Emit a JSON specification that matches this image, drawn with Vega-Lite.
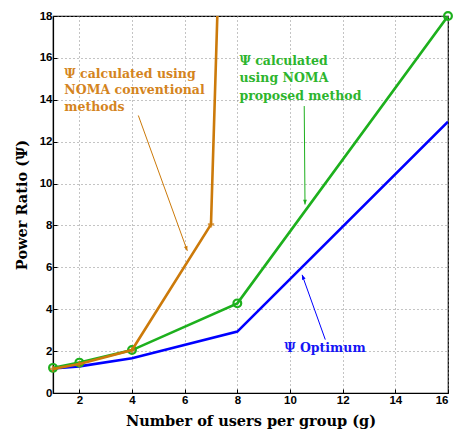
{
  "$schema": "https://vega.github.io/schema/vega-lite/v6.json",
  "width": 395,
  "height": 377,
  "autosize": {"type": "none"},
  "padding": {"left": 53, "top": 16, "right": 6, "bottom": 41},
  "background": "white",
  "config": {
    "view": {"stroke": "black", "strokeWidth": 1.2},
    "axis": {
      "grid": true,
      "gridColor": "#888888",
      "gridDash": [1, 3],
      "gridWidth": 1,
      "domainColor": "black",
      "domainWidth": 1.2,
      "tickColor": "black",
      "tickSize": -4,
      "labelPadding": 5,
      "labelFont": "Liberation Sans",
      "labelFontWeight": "bold",
      "labelFontSize": 11.5,
      "labelColor": "black",
      "titleFont": "DejaVu Serif",
      "titleFontWeight": "bold",
      "titleFontSize": 14.5,
      "titleColor": "black"
    }
  },
  "datasets": {
    "lines": [
      {"series": "opt", "x": 1, "y": 1.17},
      {"series": "opt", "x": 2, "y": 1.27},
      {"series": "opt", "x": 4, "y": 1.66},
      {"series": "opt", "x": 8, "y": 2.93},
      {"series": "opt", "x": 16, "y": 12.95},
      {"series": "prop", "x": 1, "y": 1.2},
      {"series": "prop", "x": 2, "y": 1.45},
      {"series": "prop", "x": 4, "y": 2.05},
      {"series": "prop", "x": 8, "y": 4.28},
      {"series": "prop", "x": 16, "y": 18},
      {"series": "conv", "x": 1, "y": 1.15},
      {"series": "conv", "x": 2, "y": 1.38},
      {"series": "conv", "x": 4, "y": 2.05},
      {"series": "conv", "x": 7, "y": 8.05},
      {"series": "conv", "x": 7.24, "y": 18}
    ],
    "labels": [
      {"series": "conv", "x": 1.43, "y": 15.25, "text": "Ψ calculated using"},
      {"series": "conv", "x": 1.43, "y": 14.45, "text": "NOMA conventional"},
      {"series": "conv", "x": 1.43, "y": 13.65, "text": "methods"},
      {"series": "prop", "x": 8.08, "y": 15.85, "text": "Ψ calculated"},
      {"series": "prop", "x": 8.08, "y": 15.03, "text": "using NOMA"},
      {"series": "prop", "x": 8.08, "y": 14.18, "text": "proposed method"},
      {"series": "opt", "x": 9.78, "y": 2.17, "text": "Ψ Optimum"}
    ],
    "arrows": [
      {"series": "conv", "x": 4.24, "y": 13.25, "x2": 6.1, "y2": 6.79},
      {"series": "prop", "x": 10.54, "y": 13.7, "x2": 10.57, "y2": 9.0},
      {"series": "opt", "x": 11.34, "y": 2.55, "x2": 10.46, "y2": 5.64}
    ]
  },
  "layer": [
    {
      "data": {"name": "lines"},
      "transform": [{"filter": "datum.series == 'opt'"}],
      "mark": {"type": "line", "color": "#0000FF", "strokeWidth": 2.6, "clip": true},
      "encoding": {
        "x": {"field": "x", "type": "quantitative", "scale": {"domain": [1, 16], "nice": false, "zero": false},
              "axis": {"values": [2, 4, 6, 8, 10, 12, 14, 16], "title": "Number of users per group (g)", "titlePadding": 9}},
        "y": {"field": "y", "type": "quantitative", "scale": {"domain": [0, 18], "nice": false},
              "axis": {"values": [0, 2, 4, 6, 8, 10, 12, 14, 16, 18], "title": "Power Ratio (Ψ)", "titlePadding": 10}}
      }
    },
    {
      "data": {"name": "lines"},
      "transform": [{"filter": "datum.series == 'prop'"}],
      "mark": {"type": "line", "color": "#1DB01D", "strokeWidth": 2.6, "clip": true},
      "encoding": {"x": {"field": "x", "type": "quantitative"}, "y": {"field": "y", "type": "quantitative"}}
    },
    {
      "data": {"name": "lines"},
      "transform": [{"filter": "datum.series == 'prop'"}],
      "mark": {"type": "point", "shape": "circle", "filled": false, "stroke": "#1DB01D", "strokeWidth": 2.2, "size": 60, "fill": "white", "fillOpacity": 0},
      "encoding": {"x": {"field": "x", "type": "quantitative"}, "y": {"field": "y", "type": "quantitative"}}
    },
    {
      "data": {"name": "lines"},
      "transform": [{"filter": "datum.series == 'conv'"}],
      "mark": {"type": "line", "color": "#CC7A0A", "strokeWidth": 2.6, "clip": true},
      "encoding": {"x": {"field": "x", "type": "quantitative"}, "y": {"field": "y", "type": "quantitative"}}
    },
    {
      "data": {"name": "lines"},
      "transform": [{"filter": "datum.series == 'conv' && datum.y < 18"}],
      "mark": {"type": "point", "shape": "M-1,0L1,0M0,-1L0,1", "filled": false, "stroke": "#CC7A0A", "strokeWidth": 2.2, "size": 40},
      "encoding": {"x": {"field": "x", "type": "quantitative"}, "y": {"field": "y", "type": "quantitative"}}
    },
    {
      "data": {"name": "arrows"},
      "mark": {"type": "rule", "strokeWidth": 1},
      "encoding": {
        "x": {"field": "x", "type": "quantitative"},
        "y": {"field": "y", "type": "quantitative"},
        "x2": {"field": "x2"},
        "y2": {"field": "y2"},
        "color": {"field": "series", "type": "nominal", "scale": {"domain": ["conv", "prop", "opt"], "range": ["#CC7A0A", "#1DB01D", "#0000FF"]}, "legend": null}
      }
    },
    {
      "data": {"name": "arrows"},
      "transform": [{"filter": "datum.series == 'conv'"}],
      "mark": {"type": "point", "shape": "M0,0L-0.4,1L0.4,1Z", "filled": true, "color": "#CC7A0A", "size": 90, "angle": 160, "opacity": 1},
      "encoding": {"x": {"field": "x2", "type": "quantitative"}, "y": {"field": "y2", "type": "quantitative"}}
    },
    {
      "data": {"name": "arrows"},
      "transform": [{"filter": "datum.series == 'prop'"}],
      "mark": {"type": "point", "shape": "M0,0L-0.4,1L0.4,1Z", "filled": true, "color": "#1DB01D", "size": 90, "angle": 180, "opacity": 1},
      "encoding": {"x": {"field": "x2", "type": "quantitative"}, "y": {"field": "y2", "type": "quantitative"}}
    },
    {
      "data": {"name": "arrows"},
      "transform": [{"filter": "datum.series == 'opt'"}],
      "mark": {"type": "point", "shape": "M0,0L-0.4,1L0.4,1Z", "filled": true, "color": "#0000FF", "size": 90, "angle": -21, "opacity": 1},
      "encoding": {"x": {"field": "x2", "type": "quantitative"}, "y": {"field": "y2", "type": "quantitative"}}
    },
    {
      "data": {"name": "labels"},
      "mark": {"type": "text", "align": "left", "baseline": "middle", "font": "DejaVu Serif", "fontWeight": "bold", "fontSize": 12.5},
      "encoding": {
        "x": {"field": "x", "type": "quantitative"},
        "y": {"field": "y", "type": "quantitative"},
        "text": {"field": "text"},
        "color": {"field": "series", "type": "nominal", "scale": {"domain": ["conv", "prop", "opt"], "range": ["#D4841E", "#2DB52D", "#1515F5"]}, "legend": null}
      }
    }
  ],
  "resolve": {"scale": {"color": "independent"}}
}
